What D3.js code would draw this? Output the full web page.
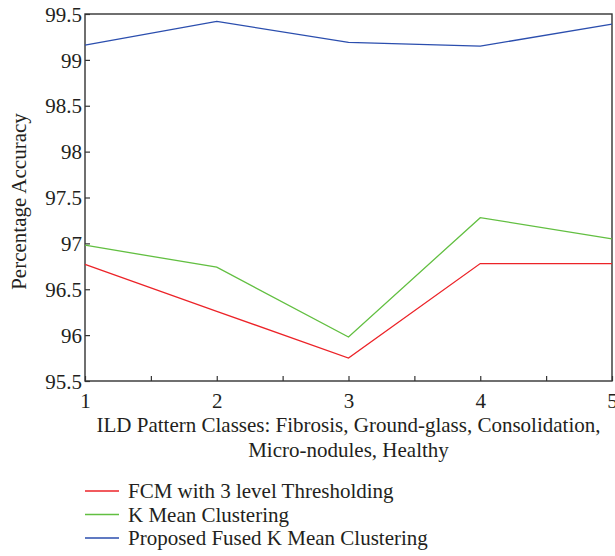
<!DOCTYPE html>
<html>
<head>
<meta charset="utf-8">
<script src="https://cdn.jsdelivr.net/npm/d3@7"></script>
<style>
body { margin: 0; background: #fff; }
svg text { font-family: "Liberation Serif", "DejaVu Serif", serif; fill: #231f20; }
</style>
</head>
<body>
<div id="viz"></div>
<script>
const width = 615;
const height = 556;

const classes = [1, 2, 3, 4, 5];
const fcm = [96.77, 96.26, 95.75, 96.78, 96.78];
const kmean = [96.98, 96.74, 95.98, 97.28, 97.05];
const fused = [99.16, 99.42, 99.19, 99.15, 99.39];
const yTicks = [95.5, 96, 96.5, 97, 97.5, 98, 98.5, 99, 99.5];
const seriesNames = ["FCM with 3 level Thresholding", "K Mean Clustering", "Proposed Fused K Mean Clustering"];
const colors = ["#ec2328", "#62bf41", "#2b4eae"];

const fontFam = '"Liberation Serif", "DejaVu Serif", serif';
const fs = 21;

const margin = { top: 14, right: 3, left: 85, bottom: 175 };
const innerWidth = width - margin.left - margin.right;
const innerHeight = height - margin.top - margin.bottom;

const svg = d3.select("#viz")
    .append("svg")
    .attr("width", width)
    .attr("height", height);

const g = svg.append("g")
    .attr("transform", `translate(${margin.left}, ${margin.top})`);

const xScale = d3.scaleLinear().domain([1, 5]).range([0, innerWidth]);
const yScale = d3.scaleLinear().domain([95.5, 99.5]).range([innerHeight, 0]);

// x axis: ticks every 0.5, labels only on whole numbers
const xAxis = d3.axisBottom(xScale)
    .tickValues(d3.range(1, 5.01, 0.5))
    .tickFormat(d => Number.isInteger(d) ? d : "")
    .tickSize(-5)
    .tickPadding(13);

const yAxis = d3.axisLeft(yScale)
    .tickValues(yTicks)
    .tickFormat(d => d)
    .tickSize(-5)
    .tickPadding(3);

const xAxisG = g.append("g")
    .attr("transform", `translate(0, ${innerHeight})`)
    .call(xAxis);
const yAxisG = g.append("g").call(yAxis);

[xAxisG, yAxisG].forEach(a => {
    a.attr("font-family", fontFam);
    a.select(".domain").remove();
    a.selectAll(".tick line").attr("stroke", "#333").attr("stroke-width", 1.2);
    a.selectAll(".tick text").attr("font-size", fs).attr("fill", "#231f20");
});
xAxisG.selectAll(".tick text").attr("dy", "0.68em");
yAxisG.selectAll(".tick text").attr("dy", "0.34em");
// drop the empty labels of the half-step ticks
xAxisG.selectAll(".tick text").filter(function() { return this.textContent === ""; }).remove();

// frame
g.append("rect")
    .attr("width", innerWidth)
    .attr("height", innerHeight)
    .attr("fill", "none")
    .attr("stroke", "#333")
    .attr("stroke-width", 1.4);

const allSeries = [fcm, kmean, fused];
const line = d3.line()
    .x((d, i) => xScale(classes[i]))
    .y(d => yScale(d));

allSeries.forEach((s, i) => {
    g.append("path")
        .attr("d", line(s))
        .attr("fill", "none")
        .attr("stroke", colors[i])
        .attr("stroke-width", 1.3);
});

// axis labels
g.append("text")
    .attr("transform", `translate(-59, ${innerHeight / 2 + 4}) rotate(-90)`)
    .attr("text-anchor", "middle")
    .attr("font-size", fs)
    .text("Percentage Accuracy");

g.append("text")
    .attr("x", innerWidth / 2)
    .attr("y", innerHeight + 51)
    .attr("text-anchor", "middle")
    .attr("font-size", fs)
    .text("ILD Pattern Classes: Fibrosis, Ground-glass, Consolidation,");
g.append("text")
    .attr("x", innerWidth / 2)
    .attr("y", innerHeight + 76)
    .attr("text-anchor", "middle")
    .attr("font-size", fs)
    .text("Micro-nodules, Healthy");

// legend
const legend = svg.append("g").attr("transform", "translate(85, 491)");
seriesNames.forEach((name, i) => {
    legend.append("line")
        .attr("x1", 0).attr("x2", 34)
        .attr("y1", i * 23.5).attr("y2", i * 23.5)
        .attr("stroke", colors[i])
        .attr("stroke-width", 1.3);
    legend.append("text")
        .attr("x", 43)
        .attr("y", i * 23.5)
        .attr("dy", "0.34em")
        .attr("font-size", fs)
        .text(name);
});
</script>
</body>
</html>
